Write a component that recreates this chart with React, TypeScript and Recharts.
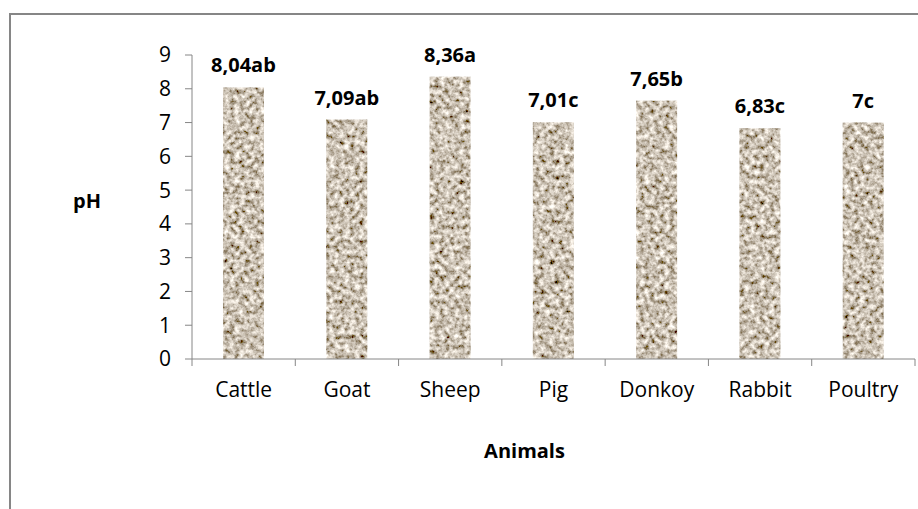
import { BarChart, Bar, XAxis, YAxis, LabelList, Label } from "recharts";

const animals = ["Cattle", "Goat", "Sheep", "Pig", "Donkoy", "Rabbit", "Poultry"];
const phValues = [8.04, 7.09, 8.36, 7.01, 7.65, 6.83, 7];
const phLabels = ["8,04ab", "7,09ab", "8,36a", "7,01c", "7,65b", "6,83c", "7c"];
const yTicks = [0, 1, 2, 3, 4, 5, 6, 7, 8, 9];

const data = animals.map((name, i) => ({
  name,
  ph: phValues[i],
  label: phLabels[i],
}));

const FONT = "'Open Sans', 'Liberation Sans', sans-serif";
const AXIS = "#868686";
const TICK_SIZE = 7;
const TICK_MARGIN = 16;

// category label plus excel-style tick marks on the band edges
function CategoryTick(props: any) {
  const { x, y, payload, index, width } = props;
  const band = (width || 723) / animals.length;
  const axisY = y - TICK_SIZE - TICK_MARGIN;
  const left = x - band / 2;
  return (
    <g>
      <line x1={left} x2={left} y1={axisY} y2={axisY + TICK_SIZE} stroke={AXIS} />
      {index === animals.length - 1 && (
        <line x1={left + band} x2={left + band} y1={axisY} y2={axisY + TICK_SIZE} stroke={AXIS} />
      )}
      <text x={x} y={y + 15} textAnchor="middle" fontSize={21} fontFamily={FONT} fill="#000">
        {payload.value}
      </text>
    </g>
  );
}

function GraniteBar(props: any) {
  const { x, y, width, height } = props;
  return <rect x={x} y={y} width={width} height={height} fill="#9e9080" filter="url(#granite)" />;
}

export default function App() {
  return (
    <div
      style={{
        position: "absolute",
        left: 0,
        top: 0,
        width: 918,
        height: 509,
        overflow: "hidden",
        background: "#fff",
      }}
    >
      <div
        style={{
          position: "absolute",
          left: 9,
          top: 13,
          width: 1000,
          height: 600,
          border: `2px solid ${AXIS}`,
          boxSizing: "border-box",
        }}
      />
      <div style={{ position: "absolute", left: 0, top: 0 }}>
        <BarChart
          width={918}
          height={509}
          data={data}
          margin={{ top: 55, right: 3, left: 0, bottom: 0 }}
          barCategoryGap="30%"
        >
          <defs>
            <filter id="granite" x="0" y="0" width="100%" height="100%">
              <feTurbulence type="fractalNoise" baseFrequency="0.2" numOctaves={3} seed={7} result="noise" />
              <feColorMatrix
                in="noise"
                type="matrix"
                values="1.6 0 0 0 -0.2  1.6 0 0 0 -0.26  1.6 0 0 0 -0.34  0 0 0 0 1"
                result="colored"
              />
              <feComposite in="colored" in2="SourceGraphic" operator="in" />
            </filter>
          </defs>
          <XAxis
            dataKey="name"
            height={150}
            stroke={AXIS}
            tickLine={false}
            tickSize={TICK_SIZE}
            tickMargin={TICK_MARGIN}
            tick={<CategoryTick />}
            interval={0}
          >
            <Label
              content={(p: any) => {
                const vb = p.viewBox;
                return (
                  <text
                    x={vb.x + vb.width / 2 - 29}
                    y={vb.y + 99}
                    textAnchor="middle"
                    fontSize={20}
                    fontWeight="bold"
                    fontFamily={FONT}
                    fill="#000"
                  >
                    Animals
                  </text>
                );
              }}
            />
          </XAxis>
          <YAxis
            width={192}
            domain={[0, 9]}
            ticks={yTicks}
            interval={0}
            stroke={AXIS}
            tickSize={TICK_SIZE}
            tickMargin={14}
            tick={{ fontSize: 21, fontFamily: FONT, fill: "#000" }}
          >
            <Label
              content={(p: any) => {
                const vb = p.viewBox;
                return (
                  <text
                    x={vb.x + 87}
                    y={vb.y + 153}
                    textAnchor="middle"
                    fontSize={20}
                    fontWeight="bold"
                    fontFamily={FONT}
                    fill="#000"
                  >
                    pH
                  </text>
                );
              }}
            />
          </YAxis>
          <Bar dataKey="ph" shape={<GraniteBar />} isAnimationActive={false}>
            <LabelList
              dataKey="label"
              position="top"
              offset={15}
              style={{ fontSize: 20, fontWeight: "bold", fontFamily: FONT, fill: "#000" }}
            />
          </Bar>
        </BarChart>
      </div>
    </div>
  );
}
